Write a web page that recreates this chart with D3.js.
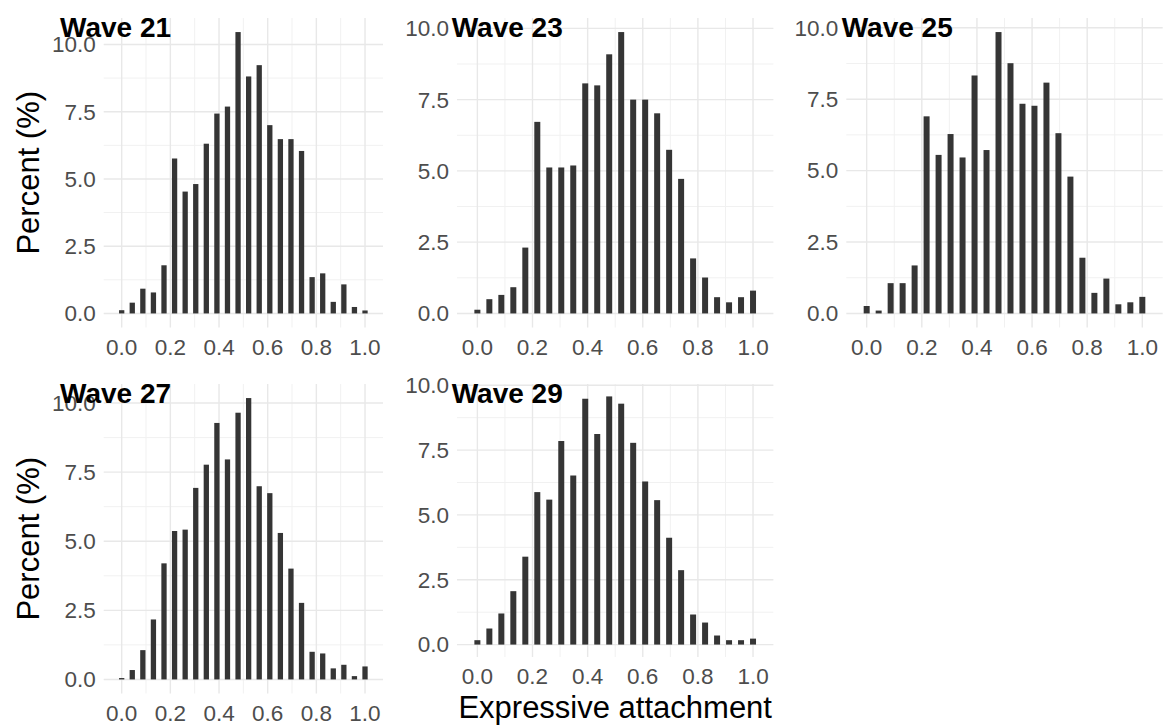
<!DOCTYPE html>
<html>
<head>
<meta charset="utf-8">
<script src="https://cdn.jsdelivr.net/npm/d3@7"></script>
<style>
  body { margin: 0; background: #fff; }
  svg text { font-family: 'Liberation Sans', Arial, sans-serif; }
</style>
</head>
<body>
<svg id="chart" width="1163" height="725"></svg>
<script>
// histogram bins: 24 bins over [0, 1], first centre at 0, last at 1
var nBins = 24
var binWidth = 1 / (nBins - 1)

var waveTitles = ['Wave 21', 'Wave 23', 'Wave 25', 'Wave 27', 'Wave 29']

var wave21 = [0.12, 0.40, 0.92, 0.78, 1.79, 5.76, 4.53, 4.81, 6.31, 7.43, 7.69, 10.46,
  8.81, 9.23, 7.00, 6.48, 6.48, 6.04, 1.35, 1.49, 0.43, 1.08, 0.24, 0.11]
var wave23 = [0.13, 0.50, 0.65, 0.92, 2.31, 6.72, 5.12, 5.12, 5.19, 8.07, 8.00, 9.09,
  9.87, 7.50, 7.50, 7.02, 5.74, 4.72, 1.93, 1.26, 0.57, 0.39, 0.57, 0.80]
var wave25 = [0.26, 0.10, 1.06, 1.06, 1.68, 6.90, 5.55, 6.28, 5.46, 8.33, 5.72, 9.85,
  8.76, 7.34, 7.27, 8.08, 6.31, 4.79, 1.95, 0.72, 1.22, 0.32, 0.39, 0.58]
var wave27 = [0.05, 0.34, 1.06, 2.17, 4.20, 5.37, 5.42, 6.93, 7.77, 9.28, 7.96, 9.65,
  10.18, 6.99, 6.74, 5.30, 4.01, 2.77, 1.00, 0.94, 0.40, 0.53, 0.12, 0.47]
var wave29 = [0.17, 0.62, 1.20, 2.06, 3.39, 5.88, 5.59, 7.85, 6.52, 9.48, 8.12, 9.57,
  9.29, 7.78, 6.29, 5.57, 4.12, 2.87, 1.16, 0.85, 0.35, 0.17, 0.17, 0.23]

var waveValues = [wave21, wave23, wave25, wave27, wave29]

var xTicks = [0, 0.2, 0.4, 0.6, 0.8, 1.0]
var xMinor = [0.1, 0.3, 0.5, 0.7, 0.9]
var yTicks = [0, 2.5, 5, 7.5, 10]
var yMinor = [1.25, 3.75, 6.25, 8.75]

var yTitle = 'Percent (%)'
var xTitle = 'Expressive attachment'

// panel boxes (plot area) and title placement
var layout = [
  { left: 103.7, right: 383, top: 18, bottom: 327.5, titleX: 60, titleY: 36.5, yLab: true, xLab: false },
  { left: 457, right: 773.4, top: 18, bottom: 327.5, titleX: 451.7, titleY: 36.5, yLab: false, xLab: false },
  { left: 846.3, right: 1162.7, top: 18, bottom: 327.5, titleX: 841.7, titleY: 36.5, yLab: false, xLab: false },
  { left: 103.7, right: 383, top: 384, bottom: 693.5, titleX: 60, titleY: 403.3, yLab: true, xLab: false },
  { left: 457, right: 773.4, top: 384, bottom: 657, titleX: 451.7, titleY: 403.3, yLab: false, xLab: true }
]

var svg = d3.select('#chart')

waveValues.forEach(function (values, p) {
  var box = layout[p]
  var bins = values.map(function (v, i) {
    return { center: i * binWidth, value: v }
  })

  // ggplot-like expansion: 5% on each side
  var xLo = -binWidth / 2, xHi = 1 + binWidth / 2
  var xPad = (xHi - xLo) * 0.05
  var x = d3.scaleLinear()
    .domain([xLo - xPad, xHi + xPad])
    .range([box.left, box.right])

  var yMax = d3.max(values)
  var y = d3.scaleLinear()
    .domain([-yMax * 0.05, yMax * 1.05])
    .range([box.bottom, box.top])

  var g = svg.append('g')

  // minor grid
  g.selectAll('.xminor').data(xMinor).enter().append('line')
    .attr('x1', function (d) { return x(d) }).attr('x2', function (d) { return x(d) })
    .attr('y1', box.top).attr('y2', box.bottom)
    .attr('stroke', '#f1f1f1').attr('stroke-width', 1)
  g.selectAll('.yminor').data(yMinor.filter(function (d) { return d <= yMax * 1.05 }))
    .enter().append('line')
    .attr('x1', box.left).attr('x2', box.right)
    .attr('y1', function (d) { return y(d) }).attr('y2', function (d) { return y(d) })
    .attr('stroke', '#f1f1f1').attr('stroke-width', 1)

  // major grid
  g.selectAll('.xmajor').data(xTicks).enter().append('line')
    .attr('x1', function (d) { return x(d) }).attr('x2', function (d) { return x(d) })
    .attr('y1', box.top).attr('y2', box.bottom)
    .attr('stroke', '#e8e8e8').attr('stroke-width', 1.4)
  g.selectAll('.ymajor').data(yTicks).enter().append('line')
    .attr('x1', box.left).attr('x2', box.right)
    .attr('y1', function (d) { return y(d) }).attr('y2', function (d) { return y(d) })
    .attr('stroke', '#e8e8e8').attr('stroke-width', 1.4)

  // bars
  g.selectAll('rect').data(bins).enter().append('rect')
    .attr('x', function (d) { return x(d.center - binWidth * 0.25) })
    .attr('width', function (d) { return x(d.center + binWidth * 0.25) - x(d.center - binWidth * 0.25) })
    .attr('y', function (d) { return y(d.value) })
    .attr('height', function (d) { return y(0) - y(d.value) })
    .attr('fill', '#353535')

  // y tick labels
  g.selectAll('.ylab').data(yTicks).enter().append('text')
    .attr('x', box.left - 8)
    .attr('y', function (d) { return y(d) })
    .attr('dy', '0.35em')
    .attr('text-anchor', 'end')
    .attr('font-size', 22.5)
    .attr('fill', '#4d4d4d')
    .text(function (d) { return d3.format('.1f')(d) })

  // x tick labels
  g.selectAll('.xlab').data(xTicks).enter().append('text')
    .attr('x', function (d) { return x(d) })
    .attr('y', box.bottom + 27)
    .attr('text-anchor', 'middle')
    .attr('font-size', 22.5)
    .attr('fill', '#4d4d4d')
    .text(function (d) { return d3.format('.1f')(d) })

  // panel title
  g.append('text')
    .attr('x', box.titleX)
    .attr('y', box.titleY)
    .attr('font-size', 28)
    .attr('font-weight', 'bold')
    .attr('fill', '#000')
    .text(waveTitles[p])

  if (box.yLab) {
    var cy = (box.top + box.bottom) / 2
    g.append('text')
      .attr('transform', 'translate(39,' + cy + ') rotate(-90)')
      .attr('text-anchor', 'middle')
      .attr('font-size', 31)
      .attr('fill', '#000')
      .text(yTitle)
  }

  if (box.xLab) {
    g.append('text')
      .attr('x', (box.left + box.right) / 2)
      .attr('y', 718)
      .attr('text-anchor', 'middle')
      .attr('font-size', 31)
      .attr('fill', '#000')
      .text(xTitle)
  }
})
</script>
</body>
</html>
